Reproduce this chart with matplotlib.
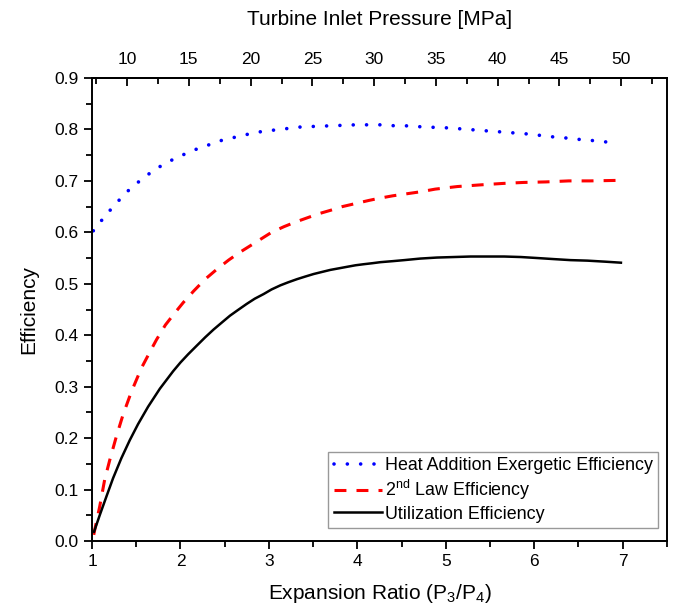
import numpy as np
import matplotlib
matplotlib.use("Agg")
import matplotlib.pyplot as plt
from matplotlib.ticker import MultipleLocator, FixedLocator

plt.rcParams['font.family'] = ['Liberation Sans', 'DejaVu Sans']
plt.rcParams['mathtext.fontset'] = 'custom'
plt.rcParams['mathtext.rm'] = 'Liberation Sans'
plt.rcParams['mathtext.it'] = 'Liberation Sans:italic'

# expansion ratio -> turbine inlet pressure (MPa)
P_per_ratio = 7.16
top_ticks = [10, 15, 20, 25, 30, 35, 40, 45, 50]

# Heat addition exergetic efficiency (blue dotted)
r_heat = [1.015, 1.14, 1.27, 1.41, 1.56, 1.71, 1.86, 2.02, 2.17, 2.32, 2.47, 2.62,
          2.77, 2.92, 3.07, 3.22, 3.37, 3.53, 3.68, 3.83, 3.98, 4.13, 4.28, 4.43,
          4.58, 4.73, 4.88, 5.03, 5.18, 5.33, 5.48, 5.64, 5.79, 5.94, 6.09, 6.24,
          6.39, 6.54, 6.69, 6.85, 6.95]
eff_heat = [0.603, 0.630, 0.656, 0.681, 0.703, 0.722, 0.737, 0.750, 0.761, 0.770,
            0.779, 0.785, 0.791, 0.796, 0.799, 0.802, 0.805, 0.806, 0.807, 0.808,
            0.809, 0.809, 0.809, 0.807, 0.807, 0.805, 0.804, 0.803, 0.801, 0.799,
            0.797, 0.795, 0.793, 0.791, 0.788, 0.785, 0.783, 0.780, 0.778, 0.775,
            0.773]

# 2nd law efficiency (red dashed)
r_law = [1.02, 1.03, 1.087, 1.143, 1.2, 1.275, 1.35, 1.445, 1.558, 1.65, 1.728,
         1.83, 1.93, 2.034, 2.15, 2.28, 2.41, 2.544, 2.66, 2.79, 2.91, 3.03, 3.17,
         3.30, 3.43, 3.56, 3.70, 3.83, 3.98, 4.13, 4.24, 4.40, 4.56, 4.72, 4.88,
         5.13, 5.37, 5.64, 5.88, 6.13, 6.39, 6.63, 6.95]
eff_law = [0.012, 0.021, 0.067, 0.119, 0.157, 0.203, 0.245, 0.290, 0.336, 0.366,
           0.391, 0.420, 0.442, 0.464, 0.486, 0.509, 0.528, 0.546, 0.560, 0.574,
           0.587, 0.600, 0.611, 0.620, 0.628, 0.636, 0.643, 0.650, 0.656, 0.662,
           0.666, 0.671, 0.675, 0.679, 0.684, 0.689, 0.692, 0.695, 0.697, 0.698,
           0.700, 0.700, 0.701]

# Utilization efficiency (black solid)
r_util = [1.023, 1.087, 1.162, 1.238, 1.332, 1.427, 1.52, 1.634, 1.767, 1.917,
          2.0, 2.087, 2.186, 2.28, 2.374, 2.47, 2.56, 2.65, 2.75, 2.84, 2.94,
          3.03, 3.13, 3.22, 3.318, 3.41, 3.506, 3.60, 3.695, 3.79, 3.884, 3.98,
          4.07, 4.17, 4.26, 4.40, 4.53, 4.71, 4.90, 5.09, 5.28, 5.47, 5.66, 5.85,
          6.04, 6.22, 6.41, 6.60, 6.80, 6.98]
eff_util = [0.018, 0.050, 0.086, 0.122, 0.161, 0.196, 0.227, 0.261, 0.296, 0.330,
            0.347, 0.363, 0.380, 0.396, 0.411, 0.425, 0.438, 0.449, 0.461, 0.471,
            0.480, 0.489, 0.497, 0.503, 0.509, 0.514, 0.519, 0.523, 0.527, 0.530,
            0.533, 0.536, 0.538, 0.540, 0.542, 0.544, 0.546, 0.549, 0.551, 0.552,
            0.553, 0.553, 0.553, 0.552, 0.550, 0.548, 0.546, 0.545, 0.543, 0.541]

fig = plt.figure(figsize=(6.74, 6.07), dpi=100)
ax = fig.add_axes([0.1365, 0.1087, 0.853, 0.7628])

ax.plot(r_heat, eff_heat, color='#0000ff', lw=2.6, linestyle=(0, (0.01, 3.68)),
        dash_capstyle='round', label='Heat Addition Exergetic Efficiency')
ax.plot(r_law, eff_law, color='#ff0000', lw=2.2, linestyle=(0, (3.9, 3.3)),
        label=r'2$^{\rm nd}$ Law Efficiency')
ax.plot(r_util, eff_util, color='black', lw=1.8, label='Utilization Efficiency')

ax.set_xlim(1, 7.5)
ax.set_ylim(0, 0.9)
ax.xaxis.set_major_locator(MultipleLocator(1))
ax.xaxis.set_minor_locator(MultipleLocator(0.5))
ax.yaxis.set_major_locator(MultipleLocator(0.1))
ax.yaxis.set_minor_locator(MultipleLocator(0.05))
ax.yaxis.set_major_formatter(matplotlib.ticker.FormatStrFormatter('%.1f'))
ax.tick_params(which='both', direction='out', top=False, right=False,
               labelsize=12.5, width=1.3)
ax.tick_params(which='major', length=6)
ax.tick_params(which='minor', length=4)
for s in ax.spines.values():
    s.set_linewidth(1.4)

ax.set_xlabel(r'Expansion Ratio (P$_{3}$/P$_{4}$)', fontsize=15, labelpad=9)
ax.set_ylabel('Efficiency', fontsize=15, labelpad=12)

top = ax.secondary_xaxis('top', functions=(lambda r: r * P_per_ratio,
                                           lambda p: p / P_per_ratio))
top.xaxis.set_major_locator(FixedLocator(top_ticks))
top.xaxis.set_minor_locator(FixedLocator(np.arange(7.5, 55, 5)))
top.tick_params(which='both', direction='in', labelsize=12.5, width=1.3, pad=8)
top.tick_params(which='major', length=6)
top.tick_params(which='minor', length=4)
top.spines['top'].set_linewidth(1.4)
top.set_xlabel('Turbine Inlet Pressure [MPa]', fontsize=15, labelpad=19)

leg = ax.legend(loc='lower right', bbox_to_anchor=(0.985, 0.028), fontsize=12.9,
                frameon=True, fancybox=False, edgecolor='#808080',
                handlelength=2.7, handletextpad=0.15, borderpad=0.3,
                labelspacing=0.2, borderaxespad=0)
leg.get_frame().set_linewidth(1.0)

fig.savefig('out.png', dpi=100)
